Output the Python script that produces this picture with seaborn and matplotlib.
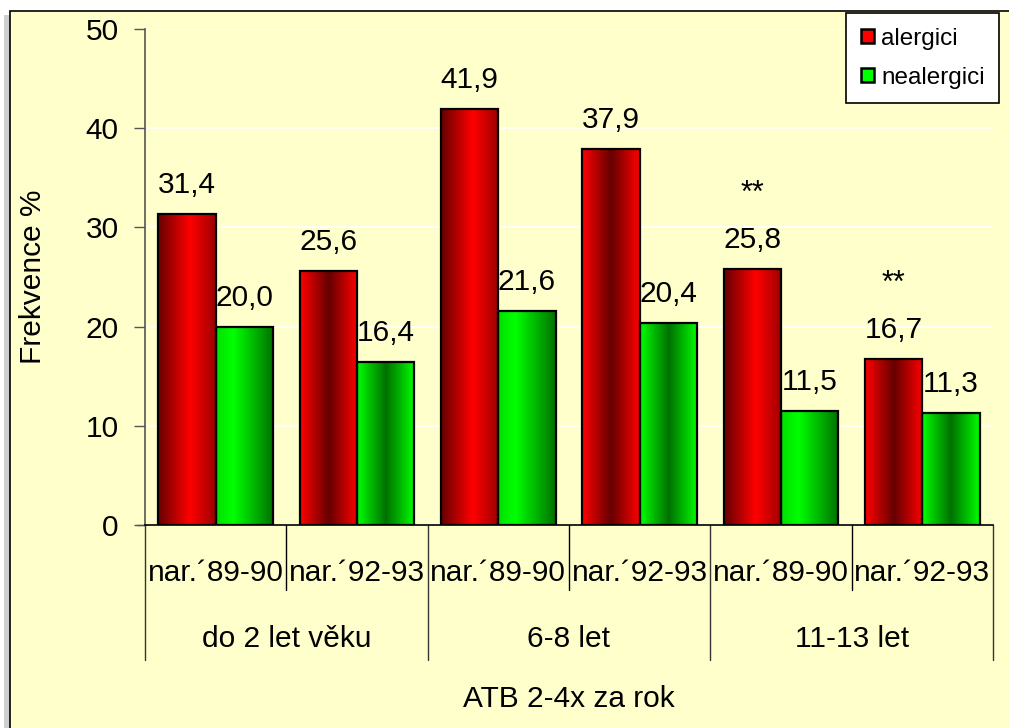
import numpy as np
import pandas as pd
import matplotlib
matplotlib.use("Agg")
import matplotlib.pyplot as plt
from matplotlib.patches import Patch, Rectangle
from matplotlib.colors import LinearSegmentedColormap
import matplotlib.transforms as mtransforms
import seaborn as sns

# ---------------- data ----------------
groups = ["do 2 let věku", "6-8 let", "11-13 let"]
cohorts = ["nar.´89-90", "nar.´92-93"]
alergici = [31.4, 25.6, 41.9, 37.9, 25.8, 16.7]
nealergici = [20.0, 16.4, 21.6, 20.4, 11.5, 11.3]
series = ["alergici", "nealergici"]
stars = ["", "", "", "", "**", "**"]
xlabel = "ATB 2-4x za rok"
ylabel = "Frekvence %"
yticks = [0, 10, 20, 30, 40, 50]

slots = [f"{g}|{c}" for g in groups for c in cohorts]
sub_labels = [c for g in groups for c in cohorts]
df = pd.DataFrame({
    "slot": slots * 2,
    "series": [series[0]] * 6 + [series[1]] * 6,
    "value": alergici + nealergici,
})

# ---------------- style ----------------
sns.set_theme(style="white")
plt.rcParams["font.family"] = ["Liberation Sans", "DejaVu Sans"]
plt.rcParams["text.color"] = "black"
plt.rcParams["axes.labelcolor"] = "black"
plt.rcParams["xtick.color"] = "black"
plt.rcParams["ytick.color"] = "black"
BG = "#FFFFCC"
FS = 21.5

W, H = 1009, 728
fig = plt.figure(figsize=(W / 100, H / 100), dpi=100)
fig.patch.set_facecolor("white")

# outer framed panel with shadow
fig.add_artist(Rectangle((4 / W, -0.1), 1.2, (H - 15) / H + 0.1, transform=fig.transFigure,
                         facecolor="#b0b0b0", edgecolor="none", alpha=0.6, zorder=-3))
fig.add_artist(Rectangle((10 / W, -0.1), 1.2, (H - 11) / H + 0.1, transform=fig.transFigure,
                         facecolor=BG, edgecolor="black", linewidth=1.2, zorder=-2))

left, right, top, bottom = 145, 993, 29, 525
ax = fig.add_axes([left / W, 1 - bottom / H, (right - left) / W, (bottom - top) / H])
ax.set_facecolor(BG)
ax.patch.set_alpha(0)

palette = {"alergici": "#FF0000", "nealergici": "#00FF00"}
sns.barplot(data=df, x="slot", y="value", hue="series", order=slots, hue_order=series,
            palette=palette, width=0.81, gap=0, ax=ax, legend=False,
            edgecolor="black", linewidth=1.6, saturation=1)

ax.set_xlim(-0.5, 5.5)
ax.set_ylim(0, 50)

# gradients on bars
red_cm = LinearSegmentedColormap.from_list("r", ["#660000", "#FF0000"])
green_cm = LinearSegmentedColormap.from_list("g", ["#006000", "#00FF00"])
profiles = {
    ("alergici", 0): ([0, 0.55, 1.0], [0.0, 1.0, 0.35]),
    ("alergici", 1): ([0, 0.5, 1.0], [1.0, 0.0, 1.0]),
    ("nealergici", 0): ([0, 0.3, 1.0], [0.8, 1.0, 0.1]),
    ("nealergici", 1): ([0, 0.5, 1.0], [1.0, 0.1, 1.0]),
}
bars = [p for p in ax.patches if p.get_height() > 0]
bars.sort(key=lambda p: p.get_x())
for p in bars:
    x0 = p.get_x()
    w = p.get_width()
    h = p.get_height()
    xc = x0 + w / 2
    slot_idx = int(round(xc))
    ser = "alergici" if xc < slot_idx else "nealergici"
    cm = red_cm if ser == "alergici" else green_cm
    xs, ys = profiles[(ser, slot_idx % 2)]
    t = np.linspace(0, 1, 200)
    b = np.interp(t, xs, ys)
    img = ax.imshow(b[None, :], cmap=cm, vmin=0, vmax=1, aspect="auto",
                    extent=[x0, x0 + w, 0, h], interpolation="bilinear", zorder=2)
    img.set_clip_path(p)
    p.set_facecolor("none")
    p.set_zorder(3)

ax.set_xlim(-0.5, 5.5)
ax.set_ylim(0, 50)

# value labels
for i in range(6):
    for j, vals in enumerate([alergici, nealergici]):
        xc = i + (-0.2025 if j == 0 else 0.2025)
        ax.text(xc, vals[i] + 1.5, f"{vals[i]:.1f}".replace(".", ","), ha="center", va="bottom",
                fontsize=FS, color="black", zorder=5)
    if stars[i]:
        ax.text(i - 0.2025, alergici[i] + 7.6, stars[i], ha="center", va="center",
                fontsize=22, color="black", zorder=5)

# y axis
ax.set_yticks(yticks)
ax.set_yticklabels([str(v) for v in yticks], fontsize=FS)
ax.yaxis.grid(True, color="white", linewidth=1.2)
ax.set_axisbelow(True)
ax.tick_params(axis="y", length=8, width=1, color="#555555", pad=11, left=True)
ax.set_ylabel(ylabel, fontsize=FS)
ax.yaxis.set_label_coords(-0.115, 0.5)

for s in ["top", "right"]:
    ax.spines[s].set_visible(False)
ax.spines["left"].set_color("#555555")
ax.spines["left"].set_linewidth(1.2)
ax.spines["bottom"].set_color("black")
ax.spines["bottom"].set_linewidth(1.2)

# x axis: two-level labels
ax.set_xticks(range(6))
ax.set_xticklabels([])
ax.tick_params(axis="x", length=0)
ax.set_xlabel("")
trans = mtransforms.blended_transform_factory(ax.transData, ax.transAxes)
for i, lab in enumerate(sub_labels):
    ax.text(i, -0.097, lab, transform=trans, ha="center", va="center", fontsize=FS)
for k, g in enumerate(groups):
    ax.text(2 * k + 0.5, -0.23, g, transform=trans, ha="center", va="center", fontsize=FS)
for xb in [0.5, 2.5, 4.5]:
    ax.plot([xb, xb], [0, -0.131], transform=trans, color="black", lw=1, clip_on=False)
for xb in [-0.5, 1.5, 3.5, 5.5]:
    ax.plot([xb, xb], [0, -0.272], transform=trans, color="#333333", lw=1, clip_on=False)
ax.plot([-0.5 - 8 / 141.3, -0.5], [0, 0], transform=trans, color="#555555", lw=1, clip_on=False)
ax.text(2.5, -0.35, xlabel, transform=trans, ha="center", va="center", fontsize=FS)

# legend
handles = [Patch(facecolor=palette[s], edgecolor="black", linewidth=1.8, label=s) for s in series]
leg = fig.legend(handles=handles, loc="upper left",
                 bbox_to_anchor=(846 / W, 1 - 13 / H), fontsize=17.5, frameon=True,
                 fancybox=False, handlelength=0.55, handleheight=0.55, handletextpad=0.3,
                 labelspacing=0.7, borderpad=0.6, borderaxespad=0)
leg.get_frame().set_edgecolor("black")
leg.get_frame().set_linewidth(1.2)
leg.get_frame().set_facecolor("white")
leg.get_frame().set_alpha(1)
for t in leg.get_texts():
    t.set_color("black")

fig.savefig("out.png", dpi=100, facecolor=fig.get_facecolor())
